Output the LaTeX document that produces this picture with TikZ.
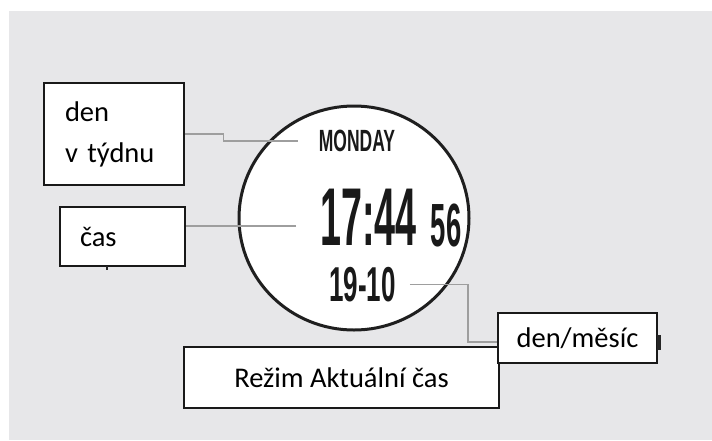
\documentclass[tikz,border=0pt]{standalone}
\usepackage{graphicx}
\usepackage{fontspec}
\setmainfont{Carlito}
\newfontfamily\lcdfont{Liberation Sans}
\usetikzlibrary{positioning}
\definecolor{panel}{RGB}{231,231,233}
\definecolor{leadgray}{RGB}{158,158,158}
\newcommand{\lcdtext}[3]{\scalebox{#1}[1]{\fontsize{#2}{#2}\selectfont\lcdfont\bfseries #3}}
\tikzset{
    label box/.style = {
        draw = black!90,
        line width = 1.5pt,
        fill = white,
        inner sep = 0pt,
        align = left,
        font = \fontsize{28.5}{41}\selectfont,
        },
    leader/.style = {
        draw = leadgray,
        line width = 1.4pt,
        },
    lcd/.style = {
        inner sep = 0pt,
        text = black!90,
        },
    display/.style = {
        draw = black!88,
        line width = 3pt,
        fill = white,
        },
}

\begin{document}
\begin{tikzpicture}[x=1pt, y=-1pt]
    \useasboundingbox (0,0) rectangle (712,440);
    \fill[panel] (9,11) rectangle (712,440);

    \draw[display] (354,218) ellipse [x radius=115, y radius=112];
    \node[lcd] (weekday) at (357,141) {\lcdtext{0.57}{30.7}{MONDAY}};
    \node[lcd] (clock) at (368.5,217.5) {\lcdtext{0.46}{82}{17:44}};
    \node[lcd] (seconds) at (446,225) {\lcdtext{0.45}{61}{56}};
    \node[lcd] (date) at (362.5,284.5) {\lcdtext{0.53}{49}{19-10}};

    \node[label box, text width=98pt, minimum width=140pt, minimum height=102pt] (day) at (114,134) {den\\v týdnu};
    \node[label box, text width=85pt, minimum width=125pt, minimum height=59pt] (time) at (122.5,236.5) {čas};
    \node[label box, align=center, minimum width=315pt, minimum height=61pt] (mode) at (341.5,377.5) {Režim Aktuální čas};
    \node[label box, align=center, minimum width=159pt, minimum height=50pt] (month) at (577.5,338) {den/měsíc};

    \coordinate (time tip) at (296,226);
    \draw[leader] (day.east) -- ++(39,0) |- ([xshift=-21pt]weekday.west);
    \draw[leader] (time tip) -- (time tip -| time.east);
    \draw[leader] ([xshift=14pt]date.east) -- ++(58,0) |- ([yshift=-4pt]month.west);

    \fill[black!85] (106,266) rectangle (108,270);
    \fill[black!85] (657,335) rectangle (661,350);
\end{tikzpicture}
\end{document}
